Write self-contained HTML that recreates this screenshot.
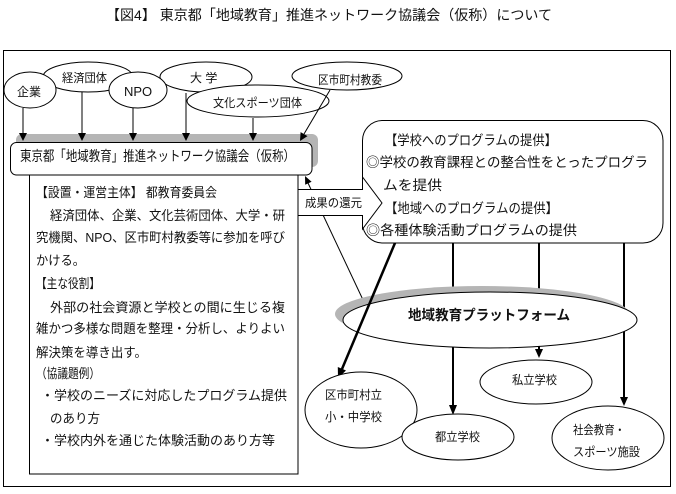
<!DOCTYPE html>
<html><head><meta charset="utf-8"><style>
html,body{margin:0;padding:0;background:#fff;}
svg{display:block;}
text{font-family:"Liberation Sans","Noto Sans CJK JP",sans-serif;fill:#111;}
</style></head><body>
<svg width="676" height="494" viewBox="0 0 676 494" xmlns="http://www.w3.org/2000/svg">
<!-- title -->
<text x="106" y="20" font-size="14" textLength="446" lengthAdjust="spacingAndGlyphs">【図4】 東京都「地域教育」推進ネットワーク協議会（仮称）について</text>
<!-- frame -->
<rect x="3.5" y="50.5" width="667" height="436" fill="none" stroke="#000" stroke-width="1"/>

<!-- top ellipses -->
<g fill="#fff" stroke="#000" stroke-width="1">
<ellipse cx="88" cy="77" rx="45" ry="15"/>
<ellipse cx="30" cy="90" rx="26" ry="18"/>
<ellipse cx="206" cy="77" rx="46" ry="15"/>
<ellipse cx="138" cy="90" rx="29" ry="18"/>
<ellipse cx="347" cy="76" rx="55" ry="14"/>
<ellipse cx="258" cy="101" rx="71" ry="16"/>
</g>
<g font-size="12">
<text x="17" y="96">企業</text>
<text x="62" y="82" textLength="45" lengthAdjust="spacingAndGlyphs">経済団体</text>
<text x="124" y="96" font-size="13">NPO</text>
<text x="190" y="82">大 学</text>
<text x="213" y="107" textLength="89" lengthAdjust="spacingAndGlyphs">文化スポーツ団体</text>
<text x="318" y="84" textLength="64" lengthAdjust="spacingAndGlyphs">区市町村教委</text>
</g>

<!-- left text box -->
<rect x="29.5" y="170.5" width="268.5" height="303.5" fill="#fff" stroke="#000" stroke-width="1"/>
<g font-size="13">
<text x="36" y="197" textLength="181" lengthAdjust="spacingAndGlyphs">【設置・運営主体】 都教育委員会</text>
<text x="50" y="220" textLength="235" lengthAdjust="spacingAndGlyphs">経済団体、企業、文化芸術団体、大学・研</text>
<text x="36" y="242" textLength="249" lengthAdjust="spacingAndGlyphs">究機関、NPO、区市町村教委等に参加を呼び</text>
<text x="36" y="265" textLength="49" lengthAdjust="spacingAndGlyphs">かける。</text>
<text x="36" y="288" textLength="64" lengthAdjust="spacingAndGlyphs">【主な役割】</text>
<text x="50" y="312" textLength="235" lengthAdjust="spacingAndGlyphs">外部の社会資源と学校との間に生じる複</text>
<text x="36" y="333" textLength="249" lengthAdjust="spacingAndGlyphs">雑かつ多様な問題を整理・分析し、よりよい</text>
<text x="36" y="357" textLength="111" lengthAdjust="spacingAndGlyphs">解決策を導き出す。</text>
<text x="36" y="378" textLength="64" lengthAdjust="spacingAndGlyphs">（協議題例）</text>
<text x="41" y="400" textLength="246" lengthAdjust="spacingAndGlyphs">・学校のニーズに対応したプログラム提供</text>
<text x="50" y="423" textLength="50" lengthAdjust="spacingAndGlyphs">のあり方</text>
<text x="41" y="445" textLength="234" lengthAdjust="spacingAndGlyphs">・学校内外を通じた体験活動のあり方等</text>
</g>

<!-- council box -->
<rect x="16" y="134" width="302" height="33" rx="6" fill="#b5b5b5"/>
<rect x="10.5" y="142.5" width="301.5" height="32.5" rx="6" fill="#fff" stroke="#000" stroke-width="1"/>
<text x="20" y="161" font-size="14" textLength="275" lengthAdjust="spacingAndGlyphs">東京都「地域教育」推進ネットワーク協議会（仮称）</text>

<!-- top arrows (thin), drawn over shadow -->
<g stroke="#000" stroke-width="1">
<line x1="23" y1="108" x2="23" y2="134"/>
<line x1="82" y1="92" x2="82" y2="134"/>
<line x1="133" y1="108" x2="133" y2="134"/>
<line x1="186" y1="93" x2="186" y2="134"/>
<line x1="253" y1="118" x2="253" y2="134"/>
<line x1="330" y1="90" x2="304" y2="134"/>
</g>
<g fill="#000">
<polygon points="19,133 27,133 23,141"/>
<polygon points="78,133 86,133 82,141"/>
<polygon points="129,133 137,133 133,141"/>
<polygon points="182,133 190,133 186,141"/>
<polygon points="249,133 257,133 253,141"/>
<polygon points="307.5,136.1 300.6,132.1 300,141"/>
</g>

<!-- vertical thick lines from callout -->
<g stroke="#000" stroke-width="2">
<line x1="453" y1="243" x2="453" y2="406"/>
<line x1="539" y1="243" x2="539" y2="350"/>
<line x1="624" y1="243" x2="624" y2="398"/>
</g>
<g fill="#000">
<polygon points="449,405 457,405 453,415"/>
<polygon points="535,349 543,349 539,358"/>
<polygon points="620,397 628,397 624,406"/>
</g>

<!-- thin return line -->
<line x1="364" y1="302" x2="308" y2="183" stroke="#000" stroke-width="1"/>
<polygon points="311.6,181.8 305.2,184.7 305,176" fill="#000"/>

<!-- platform ellipse -->
<ellipse cx="482" cy="314" rx="147" ry="28" fill="#b5b5b5"/>
<ellipse cx="490" cy="320" rx="147" ry="28" fill="#fff" stroke="#000" stroke-width="1"/>
<text x="408" y="320" font-size="14" font-weight="bold" textLength="162" lengthAdjust="spacingAndGlyphs">地域教育プラットフォーム</text>

<!-- thick diagonal -->
<line x1="395" y1="243" x2="342" y2="369" stroke="#000" stroke-width="2.5"/>
<polygon points="346,370.5 337.8,367 338,378" fill="#000"/>

<!-- callout box -->
<rect x="362.5" y="120.5" width="300.5" height="122.5" rx="20" fill="#fff" stroke="#000" stroke-width="1"/>
<g font-size="13.5">
<text x="385" y="145" textLength="172" lengthAdjust="spacingAndGlyphs">【学校へのプログラムの提供】</text>
<text x="366" y="167" textLength="282" lengthAdjust="spacingAndGlyphs">◎学校の教育課程との整合性をとったプログラ</text>
<text x="383" y="190" textLength="59" lengthAdjust="spacingAndGlyphs">ムを提供</text>
<text x="385" y="213" textLength="173" lengthAdjust="spacingAndGlyphs">【地域へのプログラムの提供】</text>
<text x="366" y="235" textLength="211" lengthAdjust="spacingAndGlyphs">◎各種体験活動プログラムの提供</text>
</g>

<!-- 成果の還元 arrow -->
<polygon points="298,189.5 362.5,189.5 362.5,177 382,203 362.5,229 362.5,215.5 298,215.5" fill="#fff" stroke="#000" stroke-width="1"/>
<text x="305" y="207" font-size="12" textLength="57" lengthAdjust="spacingAndGlyphs">成果の還元</text>

<!-- bottom ellipses -->
<g fill="#fff" stroke="#000" stroke-width="1">
<ellipse cx="361" cy="410" rx="56" ry="38"/>
<ellipse cx="458" cy="437" rx="56" ry="23"/>
<ellipse cx="536" cy="382" rx="56" ry="22"/>
<ellipse cx="608" cy="438" rx="56" ry="32"/>
</g>
<g font-size="12">
<text x="325" y="399" textLength="57" lengthAdjust="spacingAndGlyphs">区市町村立</text>
<text x="325" y="421" textLength="57" lengthAdjust="spacingAndGlyphs">小・中学校</text>
<text x="435" y="441" textLength="45" lengthAdjust="spacingAndGlyphs">都立学校</text>
<text x="512" y="384" textLength="45" lengthAdjust="spacingAndGlyphs">私立学校</text>
<text x="573" y="434" textLength="52" lengthAdjust="spacingAndGlyphs">社会教育・</text>
<text x="573" y="456" textLength="67" lengthAdjust="spacingAndGlyphs">スポーツ施設</text>
</g>
</svg>
</body></html>
